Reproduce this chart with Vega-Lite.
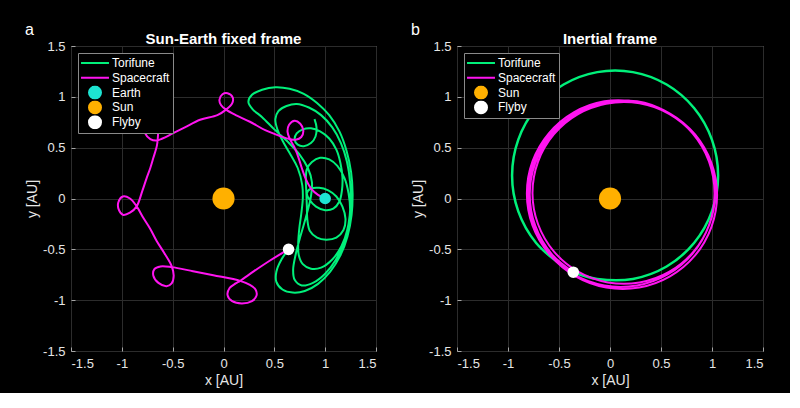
{
  "$schema": "https://vega.github.io/schema/vega-lite/v6.json",
  "background": "black",
  "padding": {"left": 25, "top": 21, "right": 26, "bottom": 5},
  "datasets": {
    "fixedTorifune": [
      {"x": 0.895, "y": 0.78}, {"x": 0.915, "y": 0.70}, {"x": 0.905, "y": 0.61}, {"x": 0.86, "y": 0.545},
      {"x": 0.79, "y": 0.515}, {"x": 0.73, "y": 0.53}, {"x": 0.70, "y": 0.58}, {"x": 0.72, "y": 0.64},
      {"x": 0.78, "y": 0.68}, {"x": 0.86, "y": 0.69}, {"x": 0.95, "y": 0.66}, {"x": 1.04, "y": 0.59},
      {"x": 1.11, "y": 0.48}, {"x": 1.15, "y": 0.35}, {"x": 1.17, "y": 0.21}, {"x": 1.165, "y": 0.08},
      {"x": 1.14, "y": -0.03}, {"x": 1.08, "y": -0.10}, {"x": 1.00, "y": -0.115}, {"x": 0.91, "y": -0.08},
      {"x": 0.845, "y": -0.01}, {"x": 0.82, "y": 0.05}, {"x": 0.855, "y": 0.095}, {"x": 0.94, "y": 0.105},
      {"x": 1.03, "y": 0.08}, {"x": 1.11, "y": 0.02}, {"x": 1.17, "y": -0.08}, {"x": 1.20, "y": -0.20},
      {"x": 1.18, "y": -0.31}, {"x": 1.11, "y": -0.385}, {"x": 1.01, "y": -0.405}, {"x": 0.92, "y": -0.385},
      {"x": 0.85, "y": -0.32}, {"x": 0.825, "y": -0.21}, {"x": 0.82, "y": -0.08}, {"x": 0.815, "y": 0.06},
      {"x": 0.81, "y": 0.19}, {"x": 0.82, "y": 0.29}, {"x": 0.87, "y": 0.36}, {"x": 0.95, "y": 0.40},
      {"x": 1.04, "y": 0.385}, {"x": 1.12, "y": 0.32}, {"x": 1.19, "y": 0.20}, {"x": 1.23, "y": 0.05},
      {"x": 1.245, "y": -0.12}, {"x": 1.22, "y": -0.30}, {"x": 1.16, "y": -0.47}, {"x": 1.07, "y": -0.60},
      {"x": 0.96, "y": -0.68}, {"x": 0.86, "y": -0.69}, {"x": 0.78, "y": -0.645}, {"x": 0.74, "y": -0.555},
      {"x": 0.735, "y": -0.44}, {"x": 0.745, "y": -0.30}, {"x": 0.765, "y": -0.15}, {"x": 0.78, "y": 0.0},
      {"x": 0.775, "y": 0.13}, {"x": 0.73, "y": 0.30}, {"x": 0.66, "y": 0.43}, {"x": 0.585, "y": 0.56},
      {"x": 0.53, "y": 0.68}, {"x": 0.51, "y": 0.78}, {"x": 0.54, "y": 0.86}, {"x": 0.62, "y": 0.91},
      {"x": 0.72, "y": 0.93}, {"x": 0.84, "y": 0.895}, {"x": 0.96, "y": 0.82}, {"x": 1.07, "y": 0.70},
      {"x": 1.155, "y": 0.545}, {"x": 1.215, "y": 0.36}, {"x": 1.245, "y": 0.16}, {"x": 1.25, "y": -0.05},
      {"x": 1.23, "y": -0.25}, {"x": 1.18, "y": -0.44}, {"x": 1.10, "y": -0.61}, {"x": 1.00, "y": -0.74},
      {"x": 0.88, "y": -0.83}, {"x": 0.77, "y": -0.855}, {"x": 0.70, "y": -0.80}, {"x": 0.685, "y": -0.70},
      {"x": 0.71, "y": -0.55}, {"x": 0.76, "y": -0.36}, {"x": 0.82, "y": -0.15}, {"x": 0.86, "y": 0.02},
      {"x": 0.87, "y": 0.16}, {"x": 0.83, "y": 0.30}, {"x": 0.75, "y": 0.43}, {"x": 0.63, "y": 0.56},
      {"x": 0.50, "y": 0.68}, {"x": 0.38, "y": 0.80}, {"x": 0.285, "y": 0.88}, {"x": 0.245, "y": 0.95},
      {"x": 0.28, "y": 1.02}, {"x": 0.38, "y": 1.07}, {"x": 0.51, "y": 1.095}, {"x": 0.65, "y": 1.08},
      {"x": 0.79, "y": 1.03}, {"x": 0.92, "y": 0.94}, {"x": 1.04, "y": 0.82}, {"x": 1.14, "y": 0.66},
      {"x": 1.21, "y": 0.47}, {"x": 1.255, "y": 0.26}, {"x": 1.27, "y": 0.05}, {"x": 1.26, "y": -0.16},
      {"x": 1.22, "y": -0.37}, {"x": 1.15, "y": -0.56}, {"x": 1.05, "y": -0.72}, {"x": 0.93, "y": -0.84},
      {"x": 0.80, "y": -0.91}, {"x": 0.68, "y": -0.925}, {"x": 0.58, "y": -0.895}, {"x": 0.52, "y": -0.82},
      {"x": 0.52, "y": -0.72}, {"x": 0.57, "y": -0.60}, {"x": 0.64, "y": -0.50}
    ],
    "fixedSpacecraft": [
      {"x": 1.0, "y": 0.0}, {"x": 0.93, "y": 0.035}, {"x": 0.86, "y": 0.10}, {"x": 0.81, "y": 0.19},
      {"x": 0.77, "y": 0.30}, {"x": 0.735, "y": 0.41}, {"x": 0.695, "y": 0.51}, {"x": 0.655, "y": 0.58},
      {"x": 0.63, "y": 0.655}, {"x": 0.645, "y": 0.725}, {"x": 0.70, "y": 0.765}, {"x": 0.755, "y": 0.735},
      {"x": 0.785, "y": 0.67}, {"x": 0.765, "y": 0.605}, {"x": 0.71, "y": 0.578}, {"x": 0.65, "y": 0.585},
      {"x": 0.57, "y": 0.61}, {"x": 0.41, "y": 0.672}, {"x": 0.26, "y": 0.755}, {"x": 0.12, "y": 0.82},
      {"x": 0.025, "y": 0.874}, {"x": -0.025, "y": 0.92}, {"x": -0.04, "y": 0.97}, {"x": -0.01, "y": 1.025},
      {"x": 0.04, "y": 1.035}, {"x": 0.09, "y": 0.995}, {"x": 0.085, "y": 0.935}, {"x": 0.025, "y": 0.874},
      {"x": -0.06, "y": 0.82}, {"x": -0.23, "y": 0.775}, {"x": -0.38, "y": 0.70}, {"x": -0.50, "y": 0.64},
      {"x": -0.60, "y": 0.59}, {"x": -0.66, "y": 0.57}, {"x": -0.72, "y": 0.585}, {"x": -0.77, "y": 0.64},
      {"x": -0.77, "y": 0.72}, {"x": -0.73, "y": 0.78}, {"x": -0.67, "y": 0.77}, {"x": -0.645, "y": 0.70},
      {"x": -0.645, "y": 0.61}, {"x": -0.655, "y": 0.52}, {"x": -0.69, "y": 0.40}, {"x": -0.72, "y": 0.30},
      {"x": -0.756, "y": 0.20}, {"x": -0.80, "y": 0.07}, {"x": -0.854, "y": -0.077}, {"x": -0.92, "y": -0.14},
      {"x": -0.99, "y": -0.16}, {"x": -1.03, "y": -0.11}, {"x": -1.035, "y": -0.04}, {"x": -0.99, "y": 0.02},
      {"x": -0.92, "y": 0.0}, {"x": -0.854, "y": -0.077}, {"x": -0.789, "y": -0.19}, {"x": -0.72, "y": -0.30},
      {"x": -0.656, "y": -0.42}, {"x": -0.58, "y": -0.54}, {"x": -0.51, "y": -0.665}, {"x": -0.49, "y": -0.76},
      {"x": -0.51, "y": -0.835}, {"x": -0.56, "y": -0.862}, {"x": -0.64, "y": -0.83}, {"x": -0.69, "y": -0.76},
      {"x": -0.68, "y": -0.695}, {"x": -0.62, "y": -0.668}, {"x": -0.51, "y": -0.675}, {"x": -0.30, "y": -0.715},
      {"x": -0.10, "y": -0.755}, {"x": 0.164, "y": -0.81}, {"x": 0.26, "y": -0.85}, {"x": 0.315, "y": -0.895},
      {"x": 0.325, "y": -0.955}, {"x": 0.28, "y": -1.01}, {"x": 0.18, "y": -1.033}, {"x": 0.085, "y": -1.01},
      {"x": 0.04, "y": -0.95}, {"x": 0.06, "y": -0.88}, {"x": 0.12, "y": -0.835}, {"x": 0.164, "y": -0.81},
      {"x": 0.30, "y": -0.715}, {"x": 0.45, "y": -0.615}, {"x": 0.58, "y": -0.535}, {"x": 0.64, "y": -0.50}
    ],
    "fixedBodies": [
      {"body": "Earth", "x": 1.0, "y": 0.0},
      {"body": "Sun", "x": 0.0, "y": 0.0},
      {"body": "Flyby", "x": 0.64, "y": -0.50}
    ],
    "inertialTorifune": [
      {"x": -0.36, "y": -0.725}, {"x": -0.125, "y": -0.791}, {"x": 0.225, "y": -0.791}, {"x": 0.555, "y": -0.669},
      {"x": 0.824, "y": -0.438}, {"x": 0.999, "y": -0.127}, {"x": 1.06, "y": 0.226}, {"x": 0.999, "y": 0.579},
      {"x": 0.824, "y": 0.89}, {"x": 0.555, "y": 1.121}, {"x": 0.225, "y": 1.243}, {"x": -0.125, "y": 1.243},
      {"x": -0.455, "y": 1.121}, {"x": -0.724, "y": 0.89}, {"x": -0.899, "y": 0.579}, {"x": -0.96, "y": 0.226},
      {"x": -0.899, "y": -0.127}, {"x": -0.724, "y": -0.438}, {"x": -0.455, "y": -0.669}, {"x": -0.36, "y": -0.725}
    ],
    "inertialSpacecraft": [
      {"x": 0.25, "y": 0.955}, {"x": -0.036, "y": 0.946}, {"x": -0.338, "y": 0.836}, {"x": -0.584, "y": 0.63},
      {"x": -0.744, "y": 0.351}, {"x": -0.8, "y": 0.035}, {"x": -0.744, "y": -0.281}, {"x": -0.584, "y": -0.56},
      {"x": -0.338, "y": -0.766}, {"x": -0.036, "y": -0.876}, {"x": 0.286, "y": -0.876}, {"x": 0.588, "y": -0.766},
      {"x": 0.834, "y": -0.56}, {"x": 0.994, "y": -0.281}, {"x": 1.05, "y": 0.035}, {"x": 0.994, "y": 0.351},
      {"x": 0.834, "y": 0.63}, {"x": 0.588, "y": 0.836}, {"x": 0.286, "y": 0.946},
      {"x": -0.055, "y": 0.956}, {"x": -0.355, "y": 0.847}, {"x": -0.6, "y": 0.641}, {"x": -0.76, "y": 0.365},
      {"x": -0.815, "y": 0.05}, {"x": -0.76, "y": -0.265}, {"x": -0.6, "y": -0.541}, {"x": -0.355, "y": -0.747},
      {"x": -0.055, "y": -0.856}, {"x": 0.265, "y": -0.856}, {"x": 0.565, "y": -0.747}, {"x": 0.81, "y": -0.541},
      {"x": 0.97, "y": -0.265}, {"x": 1.025, "y": 0.05}, {"x": 0.97, "y": 0.365}, {"x": 0.81, "y": 0.641},
      {"x": 0.565, "y": 0.847}, {"x": 0.265, "y": 0.956},
      {"x": -0.02, "y": 0.936}, {"x": -0.313, "y": 0.83}, {"x": -0.551, "y": 0.63}, {"x": -0.706, "y": 0.361},
      {"x": -0.76, "y": 0.055}, {"x": -0.706, "y": -0.251}, {"x": -0.551, "y": -0.52}, {"x": -0.313, "y": -0.72},
      {"x": -0.02, "y": -0.826}, {"x": 0.29, "y": -0.826}, {"x": 0.583, "y": -0.72}, {"x": 0.821, "y": -0.52},
      {"x": 0.976, "y": -0.251}, {"x": 1.03, "y": 0.055}, {"x": 0.976, "y": 0.361}, {"x": 0.821, "y": 0.63},
      {"x": 0.583, "y": 0.83}, {"x": 0.29, "y": 0.936},
      {"x": -0.038, "y": 0.933}, {"x": -0.334, "y": 0.826}, {"x": -0.575, "y": 0.623}, {"x": -0.732, "y": 0.35},
      {"x": -0.787, "y": 0.04}, {"x": -0.732, "y": -0.27}, {"x": -0.575, "y": -0.543}, {"x": -0.36, "y": -0.725}
    ],
    "inertialBodies": [
      {"body": "Sun", "x": 0.0, "y": 0.0},
      {"body": "Flyby", "x": -0.36, "y": -0.725}
    ]
  },
  "config": {
    "font": "Liberation Sans",
    "view": {"stroke": "#a6a6a6", "strokeWidth": 1, "fill": "black"},
    "axis": {
      "grid": true,
      "gridColor": "#2c2c2c",
      "gridWidth": 1,
      "domain": false,
      "tickColor": "#a6a6a6",
      "tickSize": -4,
      "labelPadding": 10,
      "labelColor": "#e6e6e6",
      "labelFont": "Liberation Sans",
      "labelFontSize": 13,
      "titleColor": "#e6e6e6",
      "titleFont": "Liberation Sans",
      "titleFontSize": 14,
      "titleFontWeight": "normal",
      "titlePadding": 3
    },
    "title": {"color": "white", "font": "Liberation Sans", "fontSize": 15, "fontWeight": "bold"},
    "legend": {
      "orient": "top-left",
      "offset": 7,
      "padding": 3,
      "fillColor": "black",
      "strokeColor": "#8a8a8a",
      "labelColor": "white",
      "labelFont": "Liberation Sans",
      "labelFontSize": 12,
      "labelOffset": 17,
      "symbolSize": 144,
      "symbolStrokeWidth": 2,
      "clipHeight": 14,
      "rowPadding": 0.8
    }
  },
  "hconcat": [
    {
      "title": {"text": "a", "anchor": "start", "frame": "bounds", "fontSize": 16, "fontWeight": "normal", "offset": -6},
      "hconcat": [
        {
          "title": {"text": "Sun-Earth fixed frame", "offset": -7},
          "width": 305,
          "height": 305,
          "encoding": {
            "x": {"field": "x", "type": "quantitative", "scale": {"domain": [-1.5, 1.5], "nice": false, "zero": false},
                  "axis": {"title": "x [AU]", "values": [-1.5, -1, -0.5, 0, 0.5, 1, 1.5], "labelExpr": "'' + datum.value"}},
            "y": {"field": "y", "type": "quantitative", "scale": {"domain": [-1.5, 1.5], "nice": false, "zero": false},
                  "axis": {"title": "y [AU]", "values": [-1.5, -1, -0.5, 0, 0.5, 1, 1.5], "labelExpr": "'' + datum.value"}},
            "order": {"value": null}
          },
          "layer": [
            {
              "data": {"name": "fixedTorifune"},
              "mark": {"type": "line", "interpolate": "catmull-rom", "strokeWidth": 2, "clip": true},
              "encoding": {
                "color": {"datum": "Torifune", "type": "nominal",
                  "scale": {"domain": ["Torifune", "Spacecraft", "Earth", "Sun", "Flyby"], "range": ["#00f07a", "#ff14f0", "#1de4d2", "#ffb000", "#ffffff"]},
                  "legend": {"title": null, "encode": {"symbols": {"update": {
                    "shape": {"signal": "datum.value === 'Torifune' || datum.value === 'Spacecraft' ? 'M-2.33,0H2.33' : 'circle'"},
                    "fill": {"signal": "datum.value === 'Earth' ? '#1de4d2' : datum.value === 'Sun' ? '#ffb000' : datum.value === 'Flyby' ? '#ffffff' : 'transparent'"},
                    "stroke": {"signal": "datum.value === 'Torifune' ? '#00f07a' : datum.value === 'Spacecraft' ? '#ff14f0' : 'transparent'"},
                    "strokeWidth": {"value": 2},
                    "size": {"value": 144},
                    "opacity": {"value": 1},
                    "x": {"value": 14}
                  }}}}}
              }
            },
            {
              "data": {"name": "fixedSpacecraft"},
              "mark": {"type": "line", "interpolate": "catmull-rom", "strokeWidth": 2, "clip": true},
              "encoding": {
                "color": {"datum": "Spacecraft", "type": "nominal", "legend": null}
              }
            },
            {
              "data": {"name": "fixedBodies"},
              "transform": [{"filter": "datum.body === 'Sun'"}],
              "mark": {"type": "circle", "size": 490, "opacity": 1},
              "encoding": {
                "color": {"field": "body", "type": "nominal", "legend": null}
              }
            },
            {
              "data": {"name": "fixedBodies"},
              "transform": [{"filter": "datum.body !== 'Sun'"}],
              "mark": {"type": "circle", "size": 135, "opacity": 1},
              "encoding": {
                "color": {"field": "body", "type": "nominal", "legend": null}
              }
            }
          ]
        }
      ]
    },
    {
      "title": {"text": "b", "anchor": "start", "frame": "bounds", "fontSize": 16, "fontWeight": "normal", "offset": -6},
      "hconcat": [
        {
          "title": {"text": "Inertial frame", "offset": -7},
          "width": 306,
          "height": 305,
          "encoding": {
            "x": {"field": "x", "type": "quantitative", "scale": {"domain": [-1.5, 1.5], "nice": false, "zero": false},
                  "axis": {"title": "x [AU]", "values": [-1.5, -1, -0.5, 0, 0.5, 1, 1.5], "labelExpr": "'' + datum.value"}},
            "y": {"field": "y", "type": "quantitative", "scale": {"domain": [-1.5, 1.5], "nice": false, "zero": false},
                  "axis": {"title": "y [AU]", "values": [-1.5, -1, -0.5, 0, 0.5, 1, 1.5], "labelExpr": "'' + datum.value"}},
            "order": {"value": null}
          },
          "layer": [
            {
              "data": {"name": "inertialTorifune"},
              "mark": {"type": "line", "interpolate": "catmull-rom", "strokeWidth": 2.5, "clip": true},
              "encoding": {
                "color": {"datum": "Torifune", "type": "nominal",
                  "scale": {"domain": ["Torifune", "Spacecraft", "Sun", "Flyby"], "range": ["#00f07a", "#ff14f0", "#ffb000", "#ffffff"]},
                  "legend": {"title": null, "encode": {"symbols": {"update": {
                    "shape": {"signal": "datum.value === 'Torifune' || datum.value === 'Spacecraft' ? 'M-2.33,0H2.33' : 'circle'"},
                    "fill": {"signal": "datum.value === 'Sun' ? '#ffb000' : datum.value === 'Flyby' ? '#ffffff' : 'transparent'"},
                    "stroke": {"signal": "datum.value === 'Torifune' ? '#00f07a' : datum.value === 'Spacecraft' ? '#ff14f0' : 'transparent'"},
                    "strokeWidth": {"value": 2},
                    "size": {"value": 144},
                    "opacity": {"value": 1},
                    "x": {"value": 14}
                  }}}}}
              }
            },
            {
              "data": {"name": "inertialSpacecraft"},
              "mark": {"type": "line", "interpolate": "catmull-rom", "strokeWidth": 2, "clip": true},
              "encoding": {
                "color": {"datum": "Spacecraft", "type": "nominal", "legend": null}
              }
            },
            {
              "data": {"name": "inertialBodies"},
              "transform": [{"filter": "datum.body === 'Sun'"}],
              "mark": {"type": "circle", "size": 490, "opacity": 1},
              "encoding": {
                "color": {"field": "body", "type": "nominal", "legend": null}
              }
            },
            {
              "data": {"name": "inertialBodies"},
              "transform": [{"filter": "datum.body !== 'Sun'"}],
              "mark": {"type": "circle", "size": 135, "opacity": 1},
              "encoding": {
                "color": {"field": "body", "type": "nominal", "legend": null}
              }
            }
          ]
        }
      ]
    }
  ],
  "spacing": 34,
  "resolve": {"scale": {"color": "independent"}, "legend": {"color": "independent"}}
}
